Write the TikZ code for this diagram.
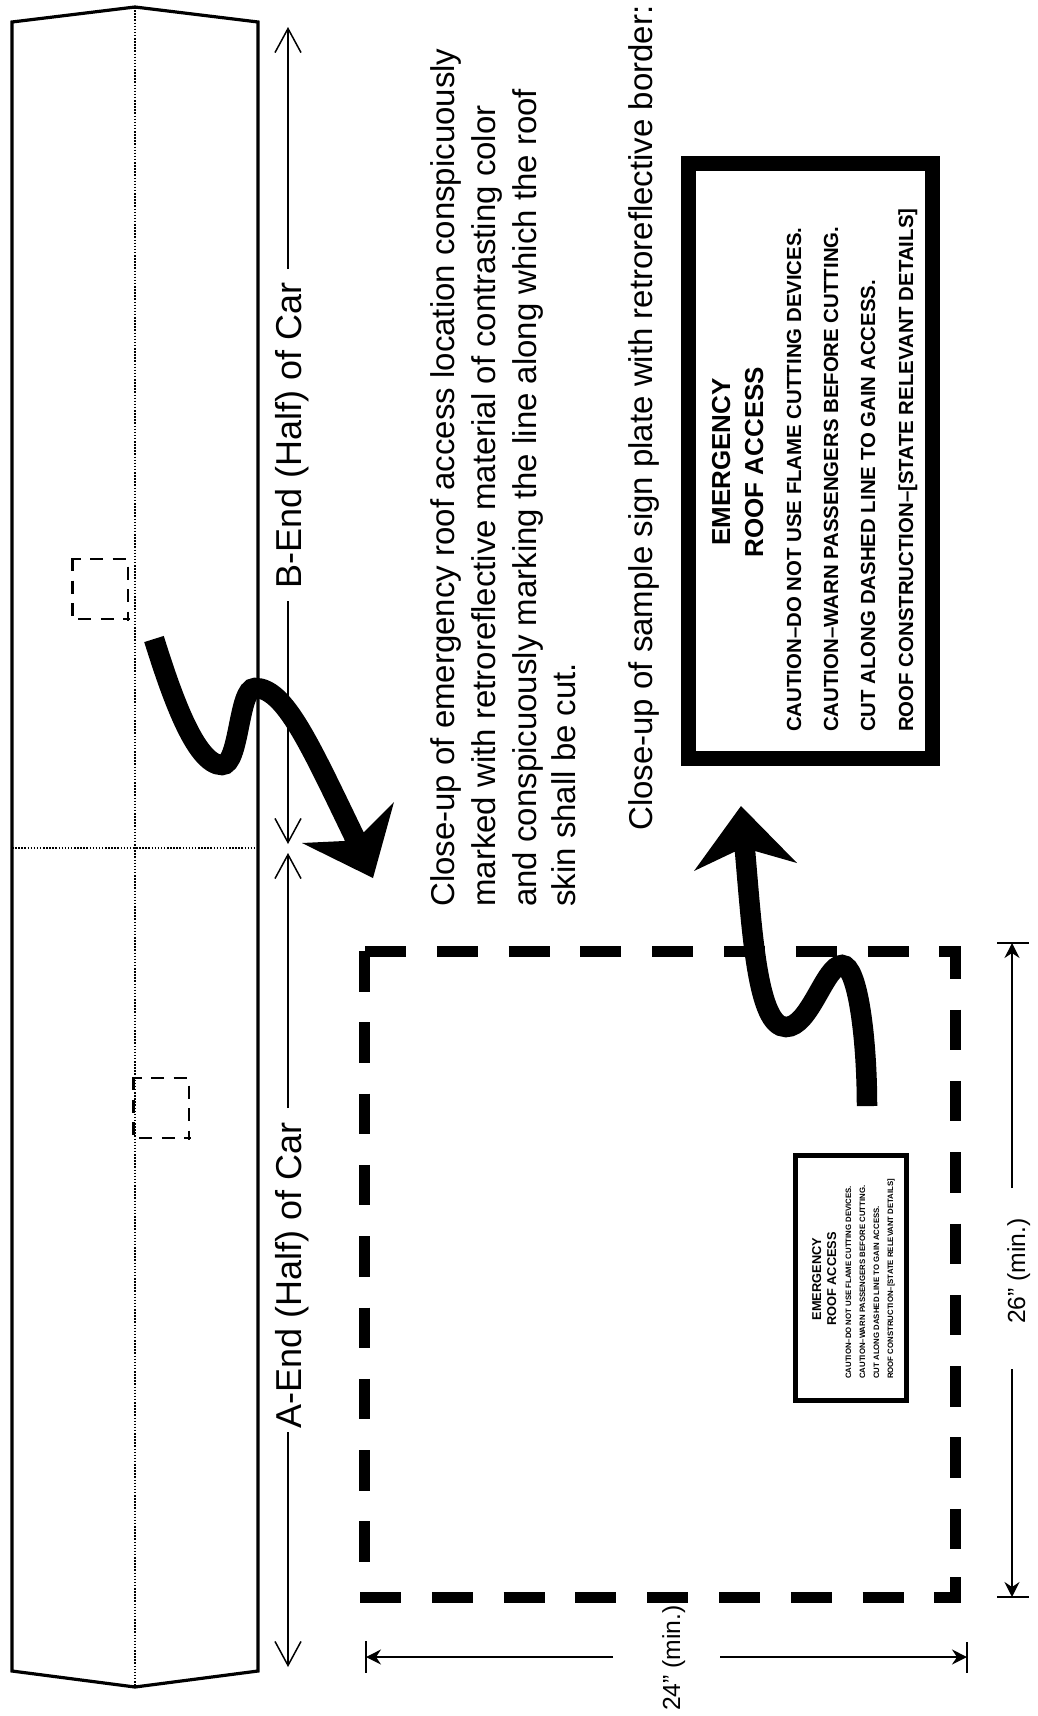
\documentclass[tikz,border=0pt]{standalone}
\usepackage{fontspec}
\setmainfont{Liberation Sans}
\usetikzlibrary{arrows.meta}
\tikzset{
 x=1pt,y=-1pt,
 carline/.style={line width=3.2pt,line join=miter},
 dotline/.style={line width=1.3pt,dash pattern=on 1.5pt off 1.6pt},
 dimright/.style={line width=1.5pt,-{Straight Barb[length=24pt,width=26pt,line width=1.5pt]}},
 dimshort/.style={line width=1.5pt,-{Stealth[length=15pt,width=15pt,inset=5pt]}},
 tickline/.style={line width=1.6pt},
 rot/.style={rotate=90,inner sep=0pt,anchor=base west},
 rotc/.style={rotate=90,inner sep=0pt,anchor=base},
 bigh/.style={line width=11pt,dash pattern=on 41pt off 30.8pt},
 bigv/.style={line width=11pt,dash pattern=on 40.5pt off 30.8pt},
 smallsq/.style={line width=2.8pt,dash pattern=on 13pt off 9.5pt},
 fat/.style={line width=20.5pt},
 headfill/.style={fill=black,draw=none},
 paratext/.style={font=\fontsize{33}{33}\selectfont},
 signhead/.style={font=\bfseries\fontsize{26}{26}\selectfont},
 signtext/.style={font=\bfseries\fontsize{20.4}{21}\selectfont},
 minihead/.style={font=\bfseries\fontsize{12.8}{13}\selectfont},
 minitext/.style={font=\bfseries\fontsize{7.8}{8}\selectfont},
 dimtext/.style={font=\fontsize{24.7}{25}\selectfont},
 endtext/.style={font=\fontsize{36}{36}\selectfont},
}
\begin{document}
\begin{tikzpicture}
\useasboundingbox (0,0) rectangle (1038,1716);
% car outline
\draw[carline] (12,22) -- (135,7) -- (258,22) -- (258,1671) -- (135,1687) -- (12,1671) -- cycle;
\draw[dotline] (135,7) -- (135,1687);
\draw[dotline] (12,848) -- (258,848);
% small squares
\foreach \dx/\dy in {0/0,61/519}{
\begin{scope}[shift={(\dx,\dy)}]
\draw[smallsq,dash phase=4.5pt] (72,559) -- (128,559);
\draw[smallsq] (72.5,558) -- (72.5,619);
\draw[smallsq,dash phase=15pt] (128,559) -- (128,620.5);
\draw[smallsq,dash phase=16.2pt] (72,619) -- (129.5,619);
\end{scope}
}
% car dimension
\node[rotc,endtext] (bend) at (301,435) {B-End (Half) of Car};
\node[rotc,endtext] (aend) at (301,1275.5) {A-End (Half) of Car};
\coordinate (btop) at (288,27);
\coordinate (bbot) at (288,844);
\coordinate (atop) at (288,853);
\coordinate (abot) at (288,1667);
\coordinate (bu) at (288,269);
\coordinate (bd) at (288,601);
\coordinate (au) at (288,1108);
\coordinate (ad) at (288,1432);
\draw[dimright] (bu) -- (btop);
\draw[dimright] (bd) -- (bbot);
\draw[dimright] (au) -- (atop);
\draw[dimright] (ad) -- (abot);
% paragraph
\node[rot,paratext] (p1) at (454,907) {Close-up of emergency roof access location conspicuously};
\node[rot,paratext] (p2) at (495,907) {marked with retroreflective material of contrasting color};
\node[rot,paratext] (p3) at (536,907) {and conspicuously marking the line along which the roof};
\node[rot,paratext] (p4) at (575,907) {skin shall be cut.};
\node[rot,paratext] (p5) at (652,831) {Close-up of sample sign plate with retroreflective border:};
% big sign
\node[draw,line width=15pt,minimum width=244pt,minimum height=595pt,inner sep=0pt] (sign) at (810.5,461) {};
\node[rotc,signhead] (s1) at (730,462) {EMERGENCY};
\node[rotc,signhead] (s2) at (763,462) {ROOF ACCESS};
\node[rot,signtext] (s3) at (801,732) {CAUTION–DO NOT USE FLAME CUTTING DEVICES.};
\node[rot,signtext] (s4) at (838,732) {CAUTION–WARN PASSENGERS BEFORE CUTTING.};
\node[rot,signtext] (s5) at (875,732) {CUT ALONG DASHED LINE TO GAIN ACCESS.};
\node[rot,signtext] (s6) at (913,732) {ROOF CONSTRUCTION–[STATE RELEVANT DETAILS]};
% big dashed rectangle
\draw[bigh] (365,951.5) -- (961,951.5);
\draw[bigh] (360,1597.5) -- (961,1597.5);
\draw[bigv] (364.5,951) -- (364.5,1562);
\draw[bigv,dash phase=7.7pt] (955.5,946) -- (955.5,1560);
\draw[line width=11pt] (955.5,1577) -- (955.5,1603);
% small sign
\node[draw,line width=4.6pt,minimum width=111pt,minimum height=245pt,inner sep=0pt] (mini) at (851,1278) {};
\node[rotc,minihead] (m1) at (821,1279) {EMERGENCY};
\node[rotc,minihead] (m2) at (836,1279) {ROOF ACCESS};
\node[rot,minitext] (m3) at (851,1379) {CAUTION–DO NOT USE FLAME CUTTING DEVICES.};
\node[rot,minitext] (m4) at (865,1379) {CAUTION–WARN PASSENGERS BEFORE CUTTING.};
\node[rot,minitext] (m5) at (879,1379) {CUT ALONG DASHED LINE TO GAIN ACCESS.};
\node[rot,minitext] (m6) at (893,1379) {ROOF CONSTRUCTION–[STATE RELEVANT DETAILS]};
% fat arrows
\coordinate (fa1) at (154,639);
\coordinate (fa2) at (222,765);
\coordinate (fa3) at (255,688);
\coordinate (fa4) at (356,840);
\draw[fat] (fa1) .. controls (170,690) and (195,765) .. (fa2) .. controls (240,765) and (238,688) .. (fa3) .. controls (285,688) and (310,745) .. (fa4);
\fill[headfill] (373,878) -- (302,843) -- (344,841) -- (364,832) -- (394,802) -- cycle;
\coordinate (fb1) at (867,1106);
\coordinate (fb2) at (842,965);
\coordinate (fb3) at (786,1027);
\coordinate (fb4) at (744.5,845);
\draw[fat] (fb1) .. controls (867,1040) and (858,965) .. (fb2) .. controls (825,965) and (810,1027) .. (fb3) .. controls (757,1027) and (752,930) .. (fb4);
\fill[headfill] (741,806) -- (694,871) -- (734,852) -- (755,851) -- (797,863) -- cycle;
% 26 dimension
\coordinate (t26a) at (1012,943);
\coordinate (t26b) at (1012,1597);
\coordinate (l26a) at (1012,1188);
\coordinate (l26b) at (1012,1369);
\draw[tickline] (997,943) -- (1029,943);
\draw[tickline] (997,1597) -- (1029,1597);
\draw[dimshort] (l26a) -- (t26a);
\draw[dimshort] (l26b) -- (t26b);
\node[rotc,dimtext] (d26) at (1025,1271) {26” (min.)};
% 24 dimension
\coordinate (t24a) at (366,1657);
\coordinate (t24b) at (967,1657);
\coordinate (l24a) at (613,1657);
\coordinate (l24b) at (720,1657);
\draw[tickline] (366,1641) -- (366,1673);
\draw[tickline] (967,1642) -- (967,1673);
\draw[dimshort] (l24a) -- (t24a);
\draw[dimshort] (l24b) -- (t24b);
\node[rotc,dimtext] (d24) at (680,1658) {24” (min.)};
\end{tikzpicture}
\end{document}
